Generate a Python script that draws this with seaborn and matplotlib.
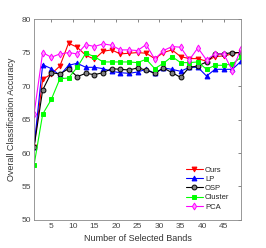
import numpy as np
import pandas as pd
import matplotlib
matplotlib.use('Agg')
import matplotlib.pyplot as plt
import seaborn as sns

# данные
bands = list(range(1, 50, 2))
ours = [60.9, 71.0, 71.8, 73.0, 76.4, 75.8, 74.6, 74.0, 75.2, 75.4, 74.8, 74.9, 75.0,
        74.9, 74.1, 75.0, 75.4, 74.4, 74.1, 74.1, 73.7, 74.4, 74.5, 74.8, 75.1]
lp = [60.9, 73.2, 72.6, 71.6, 73.1, 73.4, 72.8, 72.8, 72.6, 72.2, 72.0, 71.9, 72.1,
      72.5, 71.9, 72.7, 72.5, 72.2, 72.8, 72.8, 71.5, 72.5, 72.5, 72.5, 73.7]
osp = [60.9, 69.4, 72.0, 71.8, 72.6, 71.4, 71.9, 71.7, 72.0, 72.6, 72.5, 72.4, 72.7,
       72.4, 71.9, 72.7, 72.0, 71.3, 72.8, 73.0, 73.6, 74.8, 74.8, 75.0, 75.0]
cluster = [58.2, 65.8, 68.0, 71.1, 71.2, 72.8, 74.9, 74.4, 73.6, 73.6, 73.6, 73.6, 73.5,
           74.0, 72.6, 73.4, 74.4, 73.5, 73.5, 73.6, 72.5, 73.1, 73.1, 73.3, 74.3]
pca = [65.8, 75.0, 74.3, 74.8, 75.0, 74.8, 76.2, 75.9, 76.3, 76.1, 75.4, 75.4, 75.3,
       76.2, 74.0, 75.3, 75.9, 75.8, 73.9, 75.7, 73.9, 74.8, 74.8, 72.3, 75.6]

methods = ['Ours', 'LP', 'OSP', 'Cluster', 'PCA']
series = [ours, lp, osp, cluster, pca]
colors = ['#ff0000', '#0000ff', '#000000', '#00ff00', '#ff00ff']
markers = ['v', '^', 'o', 's', 'd']
faces = ['#ff0000', '#0000ff', '#808080', '#00ff00', '#ff99ff']

sns.set_style('white')
plt.rcParams['font.family'] = ['Liberation Sans', 'DejaVu Sans']

fig = plt.figure(figsize=(2.66, 2.48), dpi=100)
ax = fig.add_axes([0.128, 0.113, 0.778, 0.81])

for name, vals, c, m, fc in zip(methods, series, colors, markers, faces):
    sns.lineplot(x=bands, y=vals, ax=ax, color=c, marker=m, markersize=3.5,
                 markerfacecolor=fc, markeredgecolor=c, markeredgewidth=0.7,
                 linewidth=0.8, label=name)

ax.set_xlim(1, 49)
ax.set_ylim(50, 80)
ax.set_xticks(range(5, 50, 5))
ax.set_yticks(range(50, 81, 5))
ax.tick_params(direction='in', length=2.5, width=0.5, labelsize=6,
               top=True, right=True, colors='#555555', labelcolor='#444444', pad=2)
for s in ax.spines.values():
    s.set_color('#888888')
    s.set_linewidth(0.6)

ax.set_xlabel('Number of Selected Bands', fontsize=6.5, color='#333333', labelpad=3)
ax.set_ylabel('Overall Classification Accuracy', fontsize=6.5, color='#333333', labelpad=4)

ax.legend(loc='lower right', bbox_to_anchor=(0.97, 0.02), frameon=False, fontsize=5.5,
          handlelength=2.2, handletextpad=0.3, labelspacing=0.25, borderpad=0.2)

fig.savefig('out.png', dpi=100)
